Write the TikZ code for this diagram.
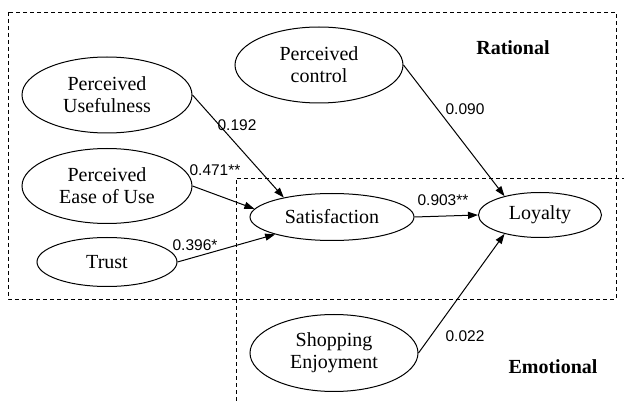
\documentclass[tikz,border=0pt]{standalone}
\usepackage{fontspec}
\setmainfont{Liberation Serif}
\newfontfamily\numfont{Liberation Sans}
\usetikzlibrary{shapes.geometric,arrows.meta}
\begin{document}
\begin{tikzpicture}[x=1pt,y=-1pt,
 construct/.style={draw,ellipse,inner sep=0pt,align=center,font=\fontsize{20}{22}\selectfont,line width=1pt},
 coef/.style={font=\numfont\fontsize{15.5}{18}\selectfont,inner sep=0pt},
 region/.style={draw,dash pattern=on 4pt off 3pt,line width=0.9pt},
 arr/.style={-{Triangle[length=10pt,width=7pt]},line width=1pt},
 tag/.style={font=\bfseries\fontsize{20}{22}\selectfont,inner sep=0pt}]
\useasboundingbox (0,0) rectangle (625,401);
% regions
\draw[region] (8,12) rectangle (616,299);
\coordinate (eb) at (236,401);
\coordinate (ec) at (236,178);
\coordinate (er) at (624,178);
\draw[region] (eb) -- (ec) -- (er);
\node[tag] (rat) at (513,48) {Rational};
\node[tag] (emo) at (553,367) {Emotional};
% constructs
\node[construct,minimum width=170pt,minimum height=76pt] (pu) at (107,95) {Perceived\\Usefulness};
\node[construct,minimum width=168pt,minimum height=76pt] (pc) at (319,65) {Perceived\\control};
\node[construct,minimum width=170pt,minimum height=75pt] (peou) at (107,186) {Perceived\\Ease of Use};
\node[construct,minimum width=140pt,minimum height=49pt] (trust) at (107,262) {Trust};
\node[construct,minimum width=164pt,minimum height=47pt] (sat) at (332,217) {Satisfaction};
\node[construct,minimum width=123pt,minimum height=45pt] (loy) at (540,215) {Loyalty};
\node[construct,minimum width=168pt,minimum height=77pt] (se) at (334,353) {Shopping\\Enjoyment};
% paths
\draw[arr] (pu.east) -- (sat.158);
\draw[arr] (peou.east) -- (sat.174);
\draw[arr] (trust.east) -- (sat.197);
\draw[arr] (pc.east) -- (loy.152);
\draw[arr] (sat.east) -- (loy.west);
\draw[arr] (se.east) -- (loy.208);
% coefficients
\node[coef] (c1) at (237,125) {0.192};
\node[coef] (c2) at (215,170) {0.471**};
\node[coef] (c3) at (195,245) {0.396*};
\node[coef] (c4) at (465,109) {0.090};
\node[coef] (c5) at (443,200) {0.903**};
\node[coef] (c6) at (465,336) {0.022};
\end{tikzpicture}
\end{document}
